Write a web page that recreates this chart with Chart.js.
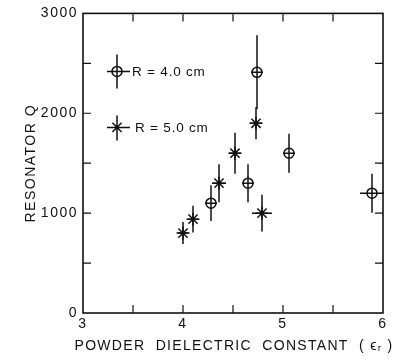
<!DOCTYPE html>
<html>
<head>
<meta charset="utf-8">
<script src="https://cdn.jsdelivr.net/npm/chart.js@4.4.1/dist/chart.umd.min.js"></script>
<style>
  html, body { margin: 0; padding: 0; background: #fff; }
  #wrap { position: relative; width: 394px; height: 359px; }
</style>
</head>
<body>
<div id="wrap"><canvas id="c" width="394" height="359"></canvas></div>
<script>
// ---- data ----
const circleLabel = "R = 4.0 cm";
const circleX    = [4.28, 4.65, 4.74, 5.06, 5.89];
const circleY    = [1100, 1300, 2410, 1600, 1200];
const circleYErr = [180, 190, 370, 195, 195];
const circleXErr = [0.06, 0.06, 0.06, 0.06, 0.12];

const starLabel = "R = 5.0 cm";
const starX    = [4.00, 4.10, 4.36, 4.52, 4.73, 4.79];
const starY    = [800, 940, 1300, 1600, 1900, 1000];
const starYErr = [110, 135, 190, 205, 160, 185];
const starXErr = [0.05, 0.05, 0.07, 0.06, 0.06, 0.10];

const xMin = 3, xMax = 6, xStep = 0.5, xLabelStep = 1;
const yMin = 0, yMax = 3000, yStep = 500, yLabelStep = 1000;
const xTitle = "POWDER  DIELECTRIC  CONSTANT  ( \u03F5\u1D63 )";
const yTitle = "RESONATOR Q";

const FONT = "'Liberation Sans', Arial, sans-serif";
const INK = '#111';

function pts(xs, ys) { return xs.map((x, i) => ({x: x, y: ys[i]})); }

const spacingPlugin = {
  id: 'spacing',
  beforeDraw(chart) { chart.ctx.letterSpacing = '1.5px'; }
};

const errPlugin = {
  id: 'errbars',
  afterDatasetsDraw(chart) {
    const ctx = chart.ctx, xs = chart.scales.x, ys = chart.scales.y;
    ctx.save();
    ctx.strokeStyle = INK; ctx.fillStyle = INK; ctx.lineWidth = 1.5;
    chart.data.datasets.forEach(ds => {
      ds.data.forEach((p, i) => {
        const px = xs.getPixelForValue(p.x), py = ys.getPixelForValue(p.y);
        const y1 = ys.getPixelForValue(p.y + ds.yErr[i]);
        const y2 = ys.getPixelForValue(p.y - ds.yErr[i]);
        const x1 = xs.getPixelForValue(p.x - ds.xErr[i]);
        const x2 = xs.getPixelForValue(p.x + ds.xErr[i]);
        ctx.beginPath();
        ctx.moveTo(px, y1); ctx.lineTo(px, y2);
        ctx.moveTo(x1, py); ctx.lineTo(x2, py);
        ctx.stroke();
        if (ds.centerDot) {
          ctx.beginPath(); ctx.arc(px, py, 2, 0, Math.PI * 2); ctx.fill();
        }
      });
    });
    ctx.restore();
  }
};

const framePlugin = {
  id: 'frame',
  afterDraw(chart) {
    const ctx = chart.ctx, a = chart.chartArea;
    const xs = chart.scales.x, ys = chart.scales.y;
    const L = 8;
    ctx.save();
    ctx.strokeStyle = INK; ctx.lineWidth = 1.6;
    ctx.strokeRect(a.left, a.top, a.right - a.left, a.bottom - a.top);
    ctx.lineWidth = 1.2;
    ctx.beginPath();
    xs.ticks.forEach(t => {
      if (t.value <= xMin || t.value >= xMax) return;
      const px = xs.getPixelForValue(t.value);
      ctx.moveTo(px, a.bottom); ctx.lineTo(px, a.bottom - L);
      ctx.moveTo(px, a.top); ctx.lineTo(px, a.top + L);
    });
    ys.ticks.forEach(t => {
      if (t.value <= yMin || t.value >= yMax) return;
      const py = ys.getPixelForValue(t.value);
      ctx.moveTo(a.left, py); ctx.lineTo(a.left + L, py);
      ctx.moveTo(a.right, py); ctx.lineTo(a.right - L, py);
    });
    ctx.stroke();

    // x-axis title (drawn here so it may extend beyond the plot width)
    ctx.fillStyle = INK;
    ctx.font = '14px ' + FONT;
    ctx.letterSpacing = '1.3px';
    ctx.textAlign = 'center';
    ctx.textBaseline = 'middle';
    ctx.fillText(xTitle, (a.left + a.right) / 2 + 1, xs.bottom - 13);

    // legend
    const items = [
      {style: 'circle', label: circleLabel, cx: a.left + 34, cy: a.top + 58, up: 17, down: 17, tx: a.left + 49},
      {style: 'star', label: starLabel, cx: a.left + 34, cy: a.top + 114, up: 12, down: 13, tx: a.left + 52}
    ];
    ctx.lineWidth = 1.5;
    ctx.font = '13.5px ' + FONT;
    ctx.textAlign = 'left';
    items.forEach(it => {
      ctx.beginPath();
      ctx.moveTo(it.cx, it.cy - it.up); ctx.lineTo(it.cx, it.cy + it.down);
      ctx.moveTo(it.cx - 10, it.cy); ctx.lineTo(it.cx + 13, it.cy);
      ctx.stroke();
      if (it.style === 'circle') {
        ctx.beginPath(); ctx.arc(it.cx, it.cy, 5, 0, Math.PI * 2); ctx.stroke();
      } else {
        const r = 6.5, d = r * Math.SQRT1_2;
        ctx.beginPath();
        ctx.moveTo(it.cx - d, it.cy - d); ctx.lineTo(it.cx + d, it.cy + d);
        ctx.moveTo(it.cx - d, it.cy + d); ctx.lineTo(it.cx + d, it.cy - d);
        ctx.stroke();
        ctx.beginPath(); ctx.arc(it.cx, it.cy, 2, 0, Math.PI * 2); ctx.fill();
      }
      ctx.letterSpacing = '0.8px';
      ctx.fillText(it.label, it.tx, it.cy + 1);
    });
    ctx.restore();
  }
};

new Chart(document.getElementById('c'), {
  type: 'scatter',
  data: {
    datasets: [
      {
        label: circleLabel,
        data: pts(circleX, circleY),
        yErr: circleYErr, xErr: circleXErr, centerDot: false,
        pointStyle: 'circle', pointRadius: 5,
        borderColor: INK, backgroundColor: 'rgba(0,0,0,0)', borderWidth: 1.5
      },
      {
        label: starLabel,
        data: pts(starX, starY),
        yErr: starYErr, xErr: starXErr, centerDot: true,
        pointStyle: 'star', pointRadius: 6.5,
        borderColor: INK, backgroundColor: INK, borderWidth: 1.5
      }
    ]
  },
  options: {
    responsive: false,
    animation: false,
    events: [],
    layout: { padding: { left: 0, right: 11, top: 13, bottom: 0 } },
    plugins: { legend: { display: false }, tooltip: { enabled: false } },
    scales: {
      x: {
        type: 'linear', min: xMin, max: xMax,
        border: { display: false },
        grid: { display: false, drawTicks: false },
        ticks: {
          stepSize: xStep, padding: 3, color: INK, maxRotation: 0,
          font: { family: FONT, size: 14 },
          callback: v => (Math.abs(v / xLabelStep - Math.round(v / xLabelStep)) < 1e-6 ? String(v) : '')
        },
        title: { display: false },
        afterFit(s) { s.height = 46; }
      },
      y: {
        type: 'linear', min: yMin, max: yMax,
        border: { display: false },
        grid: { display: false, drawTicks: false },
        ticks: {
          stepSize: yStep, padding: 5, color: INK,
          font: { family: FONT, size: 14 },
          callback: v => (v % yLabelStep === 0 ? String(v) : '')
        },
        title: {
          display: true, text: yTitle, color: INK,
          font: { family: FONT, size: 14 },
          padding: { top: 23, bottom: 0 }
        },
        afterFit(s) { s.width = 83; }
      }
    }
  },
  plugins: [spacingPlugin, errPlugin, framePlugin]
});
</script>
</body>
</html>
